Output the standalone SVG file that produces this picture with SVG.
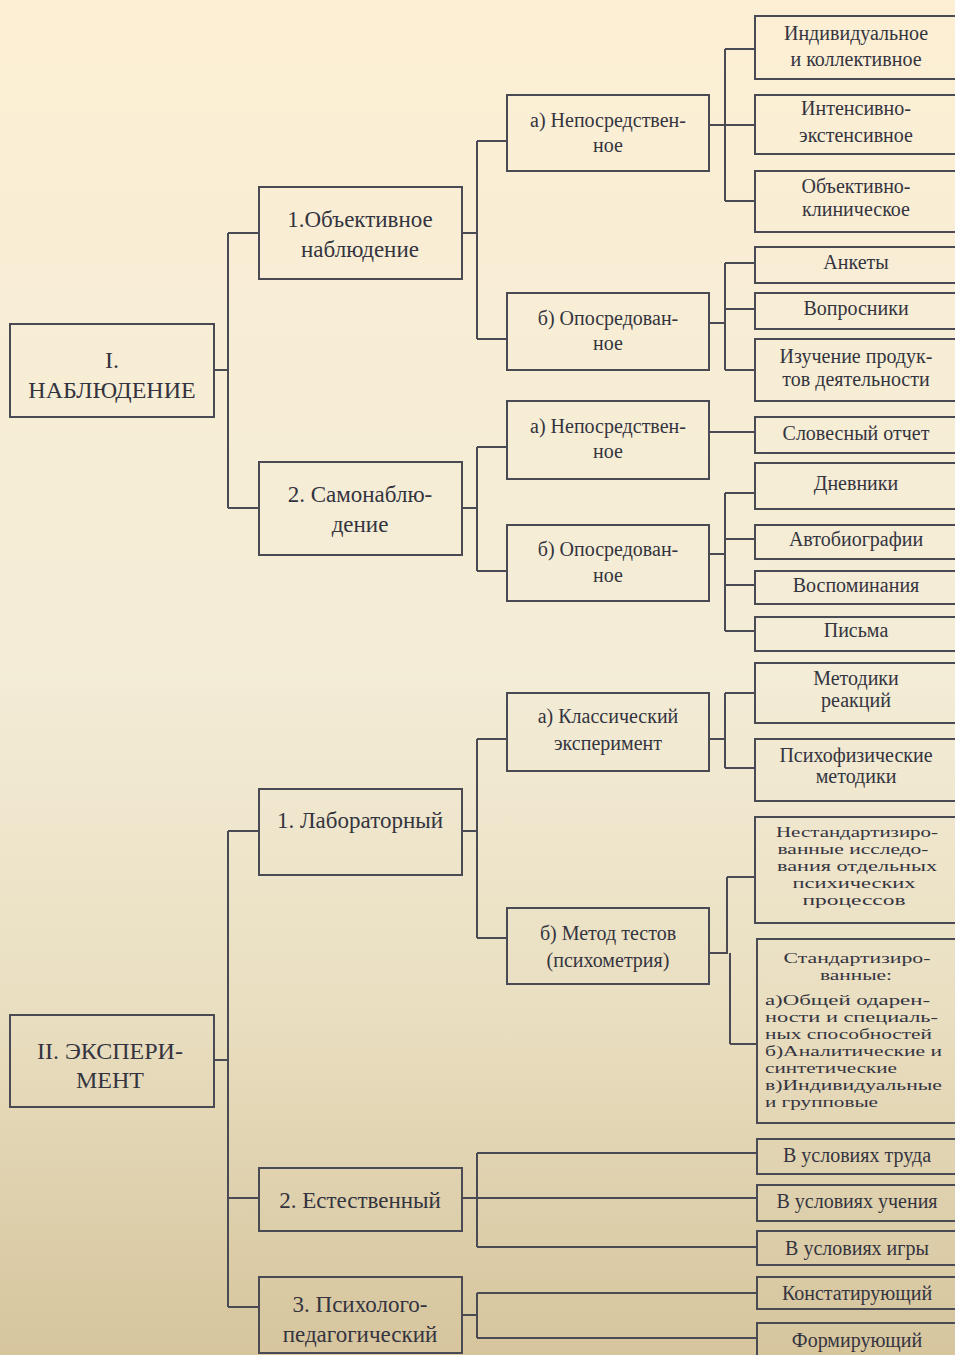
<svg xmlns="http://www.w3.org/2000/svg" width="955" height="1355" viewBox="0 0 955 1355">
<defs>
<linearGradient id="bg" x1="0" y1="0" x2="0" y2="1">
<stop offset="0" stop-color="#FCEFD4"/>
<stop offset="0.5" stop-color="#F3ECD6"/>
<stop offset="0.75" stop-color="#E9DEC0"/>
<stop offset="1" stop-color="#D6C59D"/>
</linearGradient>
<style>
rect.b{fill:none;stroke:#4a4a55;stroke-width:2}
.c path{fill:none;stroke:#4a4a55;stroke-width:2}
text{font-family:"Liberation Serif","Times New Roman",serif;fill:#34343f;text-anchor:middle}
.t1{font-size:24px}
.t2{font-size:23px}
.t3{font-size:20px}
.t4{font-size:20px}
.t5{font-size:15px}
.l{text-anchor:start}
</style>
</defs>
<rect x="0" y="0" width="955" height="1355" fill="url(#bg)"/>

<g class="c" id="connectors">
<path d="M214,370H228M228,233V508M228,233H259M228,508H259"/>
<path d="M462,233H477M477,141V339M477,141H507M477,339H507"/>
<path d="M709,125H725M725,49V201M725,49H755M725,125H755M725,201H755"/>
<path d="M709,323H725M725,263V370M725,263H755M725,309H755M725,370H755"/>
<path d="M462,508H477M477,447V571M477,447H507M477,571H507"/>
<path d="M709,432H755"/>
<path d="M709,554H725M725,493V631M725,493H755M725,539H755M725,585H755M725,631H755"/>
<path d="M214,1060H228M228,831V1307M228,831H259M228,1198H259M228,1307H259"/>
<path d="M462,831H477M477,739V938M477,739H507M477,938H507"/>
<path d="M709,739H725M725,693V768M725,693H755M725,768H755"/>
<path d="M709,953H728M727,877V954M727,877H755M730,953V1044M730,1044H757"/>
<path d="M462,1198H477M477,1153V1247M477,1153H757M477,1198H757M477,1247H757"/>
<path d="M462,1315H477M477,1293V1338M477,1293H757M477,1338H757"/>
</g>

<g id="n-nabl"><rect class="b" x="10" y="324" width="204" height="93"/><text class="t1" x="112" y="368">I.</text><text class="t1" x="112" y="398">НАБЛЮДЕНИЕ</text></g>
<g id="n-exp"><rect class="b" x="10" y="1015" width="204" height="92"/><text class="t1" x="110" y="1059">II. ЭКСПЕРИ-</text><text class="t1" x="110" y="1088">МЕНТ</text></g>

<g id="n-obj"><rect class="b" x="259" y="187" width="203" height="92"/><text class="t2" x="360" y="227">1.Объективное</text><text class="t2" x="360" y="257">наблюдение</text></g>
<g id="n-self"><rect class="b" x="259" y="462" width="203" height="93"/><text class="t2" x="360" y="502">2. Самонаблю-</text><text class="t2" x="360" y="532">дение</text></g>
<g id="n-lab"><rect class="b" x="259" y="789" width="203" height="86"/><text class="t2" x="360" y="828">1. Лабораторный</text></g>
<g id="n-nat"><rect class="b" x="259" y="1168" width="203" height="63"/><text class="t2" x="360" y="1208">2. Естественный</text></g>
<g id="n-ped"><rect class="b" x="259" y="1277" width="203" height="76"/><text class="t2" x="360" y="1312">3. Психолого-</text><text class="t2" x="360" y="1342">педагогический</text></g>

<g id="n-obj-a"><rect class="b" x="507" y="95" width="202" height="76"/><text class="t3" x="608" y="127">а) Непосредствен-</text><text class="t3" x="608" y="152">ное</text></g>
<g id="n-obj-b"><rect class="b" x="507" y="293" width="202" height="77"/><text class="t3" x="608" y="325">б) Опосредован-</text><text class="t3" x="608" y="350">ное</text></g>
<g id="n-self-a"><rect class="b" x="507" y="401" width="202" height="78"/><text class="t3" x="608" y="433">а) Непосредствен-</text><text class="t3" x="608" y="458">ное</text></g>
<g id="n-self-b"><rect class="b" x="507" y="525" width="202" height="76"/><text class="t3" x="608" y="556">б) Опосредован-</text><text class="t3" x="608" y="582">ное</text></g>
<g id="n-lab-a"><rect class="b" x="507" y="693" width="202" height="78"/><text class="t3" x="608" y="723">а) Классический</text><text class="t3" x="608" y="750">эксперимент</text></g>
<g id="n-lab-b"><rect class="b" x="507" y="908" width="202" height="76"/><text class="t3" x="608" y="940">б) Метод тестов</text><text class="t3" x="608" y="967">(психометрия)</text></g>

<g id="l1"><rect class="b" x="755" y="16" width="210" height="63"/><text class="t4" x="856" y="40">Индивидуальное</text><text class="t4" x="856" y="66">и коллективное</text></g>
<g id="l2"><rect class="b" x="755" y="95" width="210" height="59"/><text class="t4" x="856" y="115">Интенсивно-</text><text class="t4" x="856" y="142">экстенсивное</text></g>
<g id="l3"><rect class="b" x="755" y="171" width="210" height="61"/><text class="t4" x="856" y="193">Объективно-</text><text class="t4" x="856" y="216">клиническое</text></g>
<g id="l4"><rect class="b" x="755" y="247" width="210" height="36"/><text class="t4" x="856" y="269">Анкеты</text></g>
<g id="l5"><rect class="b" x="755" y="293" width="210" height="36"/><text class="t4" x="856" y="315">Вопросники</text></g>
<g id="l6"><rect class="b" x="755" y="339" width="210" height="62"/><text class="t4" x="856" y="363">Изучение продук-</text><text class="t4" x="856" y="386">тов деятельности</text></g>
<g id="l7"><rect class="b" x="755" y="417" width="210" height="36"/><text class="t4" x="856" y="440">Словесный отчет</text></g>
<g id="l8"><rect class="b" x="755" y="463" width="210" height="46"/><text class="t4" x="856" y="490">Дневники</text></g>
<g id="l9"><rect class="b" x="755" y="525" width="210" height="34"/><text class="t4" x="856" y="546">Автобиографии</text></g>
<g id="l10"><rect class="b" x="755" y="571" width="210" height="33"/><text class="t4" x="856" y="592">Воспоминания</text></g>
<g id="l11"><rect class="b" x="755" y="617" width="210" height="34"/><text class="t4" x="856" y="637">Письма</text></g>
<g id="l12"><rect class="b" x="755" y="663" width="210" height="60"/><text class="t4" x="856" y="685">Методики</text><text class="t4" x="856" y="707">реакций</text></g>
<g id="l13"><rect class="b" x="755" y="739" width="210" height="62"/><text class="t4" x="856" y="762">Психофизические</text><text class="t4" x="856" y="783">методики</text></g>
<g id="l14"><rect class="b" x="755" y="817" width="210" height="106"/>
<text class="t5" x="857" y="837" textLength="162" lengthAdjust="spacingAndGlyphs">Нестандартизиро-</text>
<text class="t5" x="853" y="854" textLength="151" lengthAdjust="spacingAndGlyphs">ванные исследо-</text>
<text class="t5" x="857" y="871" textLength="160" lengthAdjust="spacingAndGlyphs">вания отдельных</text>
<text class="t5" x="854" y="888" textLength="123" lengthAdjust="spacingAndGlyphs">психических</text>
<text class="t5" x="854" y="905" textLength="103" lengthAdjust="spacingAndGlyphs">процессов</text></g>
<g id="l15"><rect class="b" x="757" y="939" width="210" height="184"/>
<text class="t5" x="857" y="963" textLength="147" lengthAdjust="spacingAndGlyphs">Стандартизиро-</text>
<text class="t5" x="856" y="980" textLength="72" lengthAdjust="spacingAndGlyphs">ванные:</text>
<text class="t5 l" x="765" y="1005" textLength="165" lengthAdjust="spacingAndGlyphs">а)Общей одарен-</text>
<text class="t5 l" x="765" y="1022" textLength="173" lengthAdjust="spacingAndGlyphs">ности и специаль-</text>
<text class="t5 l" x="765" y="1039" textLength="167" lengthAdjust="spacingAndGlyphs">ных способностей</text>
<text class="t5 l" x="765" y="1056" textLength="177" lengthAdjust="spacingAndGlyphs">б)Аналитические и</text>
<text class="t5 l" x="765" y="1073" textLength="132" lengthAdjust="spacingAndGlyphs">синтетические</text>
<text class="t5 l" x="765" y="1090" textLength="177" lengthAdjust="spacingAndGlyphs">в)Индивидуальные</text>
<text class="t5 l" x="765" y="1107" textLength="113" lengthAdjust="spacingAndGlyphs">и групповые</text></g>
<g id="l16"><rect class="b" x="757" y="1139" width="210" height="35"/><text class="t4" x="857" y="1162">В условиях труда</text></g>
<g id="l17"><rect class="b" x="757" y="1185" width="210" height="36"/><text class="t4" x="857" y="1208">В условиях учения</text></g>
<g id="l18"><rect class="b" x="757" y="1231" width="210" height="34"/><text class="t4" x="857" y="1255">В условиях игры</text></g>
<g id="l19"><rect class="b" x="757" y="1277" width="210" height="32"/><text class="t4" x="857" y="1300">Констатирующий</text></g>
<g id="l20"><rect class="b" x="757" y="1323" width="210" height="45"/><text class="t4" x="857" y="1347">Формирующий</text></g>
</svg>
